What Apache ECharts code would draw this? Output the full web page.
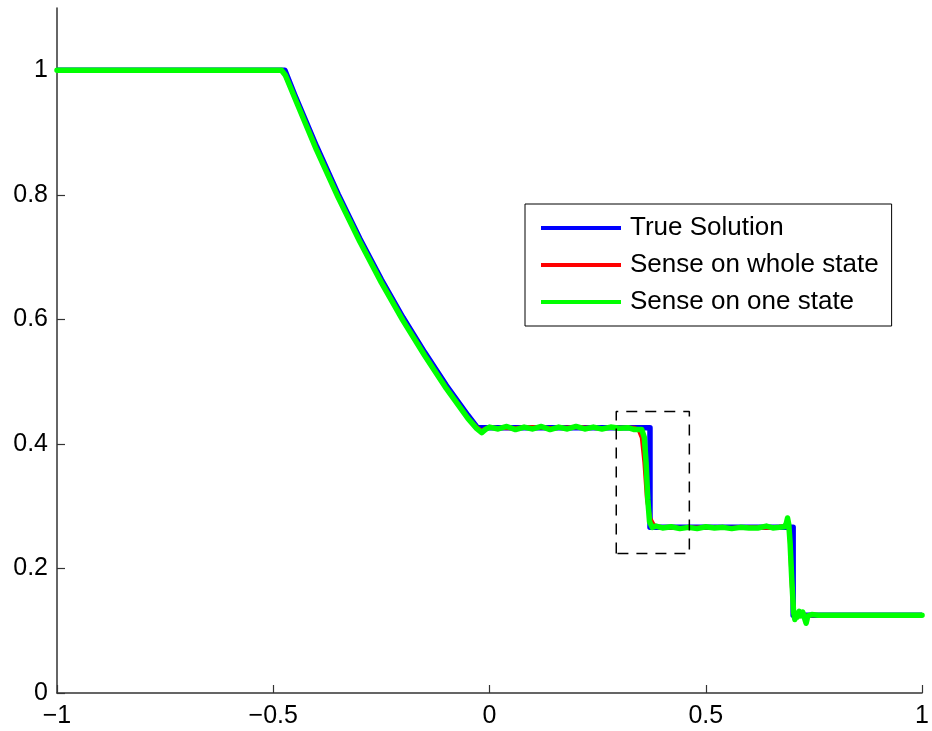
<!DOCTYPE html>
<html>
<head>
<meta charset="utf-8">
<script src="https://cdn.jsdelivr.net/npm/echarts@6/dist/echarts.min.js"></script>
<style>
  html, body { margin: 0; padding: 0; background: #fff; }
  #chart { width: 932px; height: 731px; }
</style>
</head>
<body>
<div id="chart"></div>
<script>
// Density profile of the shock tube at the final time: exact solution and two sensed runs.

const xTicks = [-1, -0.5, 0, 0.5, 1];
const yTicks = [0, 0.2, 0.4, 0.6, 0.8, 1];

const trueSolution = [
  [-1, 1.0], [-0.473, 1.0], [-0.45, 0.960], [-0.40, 0.878], [-0.35, 0.801],
  [-0.30, 0.730], [-0.25, 0.664], [-0.20, 0.603], [-0.15, 0.547], [-0.10, 0.494],
  [-0.05, 0.446], [-0.028, 0.426], [0.371, 0.426], [0.371, 0.266], [0.702, 0.266],
  [0.702, 0.125], [1, 0.125]
];

const senseWholeState = [
  [-1, 1.0], [-0.482, 1.0], [-0.474, 0.994], [-0.45, 0.956], [-0.40, 0.874],
  [-0.35, 0.797], [-0.30, 0.726], [-0.25, 0.660], [-0.20, 0.599], [-0.15, 0.543],
  [-0.10, 0.490], [-0.05, 0.442], [-0.03, 0.427], [-0.018, 0.421], [-0.008, 0.425],
  [0.0, 0.426], [0.05, 0.425], [0.10, 0.427], [0.15, 0.425], [0.20, 0.427],
  [0.25, 0.425], [0.30, 0.426], [0.335, 0.426], [0.345, 0.422], [0.352, 0.410],
  [0.358, 0.370], [0.364, 0.310], [0.372, 0.280], [0.380, 0.270], [0.390, 0.266],
  [0.45, 0.265], [0.50, 0.266], [0.55, 0.265], [0.60, 0.266], [0.65, 0.265],
  [0.685, 0.268], [0.690, 0.275], [0.694, 0.250], [0.699, 0.170], [0.704, 0.128],
  [0.712, 0.122], [0.720, 0.127], [0.730, 0.124], [0.750, 0.125], [1, 0.125]
];

const senseOneState = [
  [-1, 1.0], [-0.481, 1.0], [-0.472, 0.992], [-0.45, 0.955], [-0.40, 0.872],
  [-0.35, 0.796], [-0.30, 0.725], [-0.25, 0.659], [-0.20, 0.598], [-0.15, 0.542],
  [-0.10, 0.489], [-0.05, 0.441], [-0.03, 0.425], [-0.018, 0.418], [-0.010, 0.423],
  [0.0, 0.427], [0.02, 0.424], [0.04, 0.428], [0.06, 0.423], [0.08, 0.427],
  [0.10, 0.424], [0.12, 0.428], [0.14, 0.423], [0.16, 0.427], [0.18, 0.424],
  [0.20, 0.428], [0.22, 0.424], [0.24, 0.427], [0.26, 0.424], [0.28, 0.427],
  [0.30, 0.425], [0.32, 0.426], [0.335, 0.423], [0.352, 0.423], [0.358, 0.410],
  [0.362, 0.370], [0.366, 0.310], [0.370, 0.275], [0.376, 0.266], [0.385, 0.268],
  [0.40, 0.265], [0.42, 0.267], [0.44, 0.264], [0.46, 0.266], [0.48, 0.264],
  [0.50, 0.267], [0.52, 0.265], [0.54, 0.266], [0.56, 0.264], [0.58, 0.266],
  [0.60, 0.265], [0.62, 0.265], [0.64, 0.268], [0.655, 0.265], [0.67, 0.266],
  [0.682, 0.267], [0.686, 0.272], [0.689, 0.281], [0.692, 0.270], [0.695, 0.240],
  [0.699, 0.180], [0.703, 0.130], [0.706, 0.118], [0.709, 0.128], [0.712, 0.122],
  [0.716, 0.131], [0.720, 0.124], [0.724, 0.130], [0.728, 0.121], [0.732, 0.112],
  [0.736, 0.124], [0.745, 0.126], [0.760, 0.125], [1, 0.125]
];

// Dashed box around the contact discontinuity
const zoomBox = [[0.293, 0.224], [0.293, 0.452], [0.462, 0.452], [0.462, 0.224], [0.293, 0.224]];

const seriesNames = ['True Solution', 'Sense on whole state', 'Sense on one state'];
const seriesColors = ['#0000ff', '#ff0000', '#00ff00'];

const fmt = v => (v < 0 ? '\u2212' + String(-v) : String(v));
const axisFont = { fontFamily: 'Liberation Sans, Arial, sans-serif', fontSize: 25, color: '#000' };

const chart = echarts.init(document.getElementById('chart'), null, { renderer: 'canvas' });
chart.setOption({
  animation: false,
  backgroundColor: '#fff',
  grid: { left: 57, right: 8, top: 8, bottom: 38, containLabel: false },
  xAxis: {
    type: 'value', min: -1, max: 1, interval: 0.5,
    axisLine: { show: true, onZero: false, lineStyle: { color: '#333', width: 1.5 } },
    axisTick: { show: true, inside: true, length: 8, lineStyle: { color: '#333', width: 1.2 }, customValues: xTicks },
    axisLabel: Object.assign({ margin: 11, formatter: fmt, customValues: xTicks }, axisFont),
    splitLine: { show: false }
  },
  yAxis: {
    type: 'value', min: 0, max: 1.1,
    axisLine: { show: true, onZero: false, lineStyle: { color: '#333', width: 1.5 } },
    axisTick: { show: true, inside: true, length: 8, lineStyle: { color: '#333', width: 1.2 }, customValues: yTicks },
    axisLabel: Object.assign({ margin: 9, formatter: fmt, customValues: yTicks }, axisFont),
    splitLine: { show: false }
  },
  legend: {
    data: seriesNames,
    orient: 'vertical',
    left: 525, top: 204,
    icon: 'rect', itemWidth: 80, itemHeight: 4, itemGap: 7,
    padding: [9, 13, 9, 16],
    backgroundColor: '#fff', borderColor: '#000', borderWidth: 1, borderRadius: 0,
    textStyle: { fontFamily: 'Liberation Sans, Arial, sans-serif', fontSize: 26, color: '#000', lineHeight: 30, padding: [0, 0, 0, 4] },
    selectedMode: false
  },
  series: [
    {
      name: seriesNames[0], type: 'line', data: trueSolution, showSymbol: false, symbol: 'none',
      color: seriesColors[0], lineStyle: { color: seriesColors[0], width: 5.5, join: 'round' }, z: 2
    },
    {
      name: seriesNames[1], type: 'line', data: senseWholeState, showSymbol: false, symbol: 'none',
      color: seriesColors[1], lineStyle: { color: seriesColors[1], width: 4, join: 'round' }, z: 3
    },
    {
      name: seriesNames[2], type: 'line', data: senseOneState, showSymbol: false, symbol: 'none',
      color: seriesColors[2], lineStyle: { color: seriesColors[2], width: 5.5, join: 'round', cap: 'round' }, z: 4
    },
    {
      name: 'box', type: 'line', data: zoomBox, showSymbol: false, symbol: 'none', silent: true,
      lineStyle: { color: '#000', width: 1.5, type: [11, 8] }, z: 5
    }
  ]
});
</script>
</body>
</html>
